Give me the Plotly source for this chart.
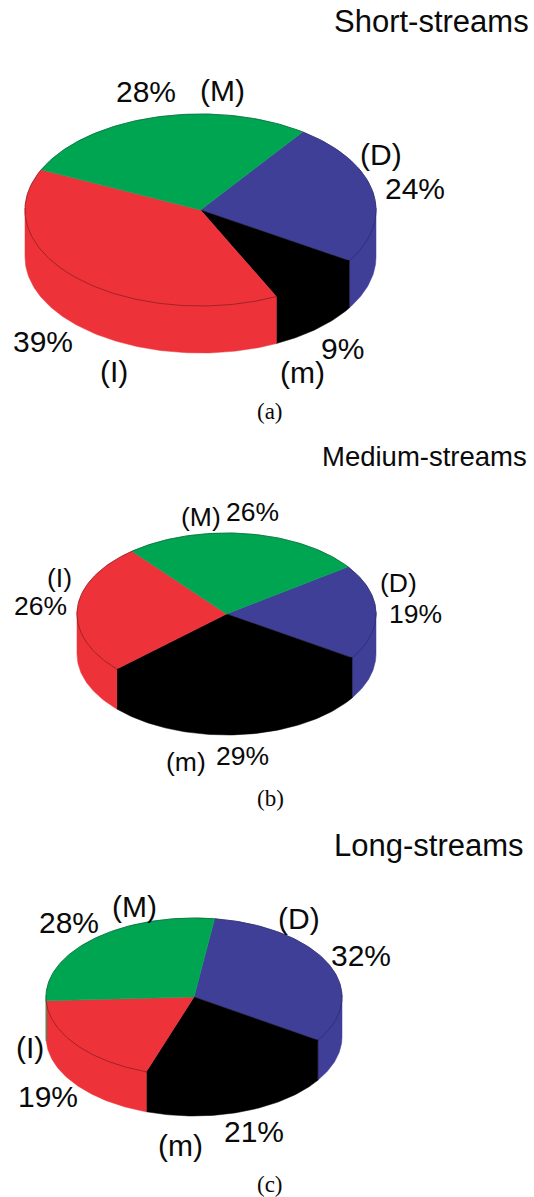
import numpy as np
import plotly.graph_objects as go

# Slice order runs clockwise around each pie
categories = ["D", "m", "I", "M"]
short_values = [24, 9, 39, 28]
medium_values = [19, 29, 26, 26]
long_values = [32, 21, 19, 28]
titles = ["Short-streams", "Medium-streams", "Long-streams"]
captions = ["(a)", "(b)", "(c)"]

COLORS = {"D": "#3F3F97", "m": "#000000", "I": "#EE3239", "M": "#00A551"}
RIMS = {"D": "#2C2C70", "m": "#000000", "I": "#8E2025", "M": "#0B6B3C"}

# Pie geometry: centre, radii, wall height and the angle where the first slice begins
pies = [
    dict(values=short_values, cx=200.5, cy=210, rx=175.5, ry=96, depth=47, start=54.4),
    dict(values=medium_values, cx=226.5, cy=614, rx=149.5, ry=81, depth=40, start=35.6),
    dict(values=long_values, cx=194, cy=997, rx=148, ry=79, depth=40, start=82),
]

# Text positions per panel
title_pos = [(431.5, 21), (424.5, 456), (429, 845)]
caption_pos = [(270, 411), (270, 798), (270, 1184)]
title_size = [31, 27.5, 31]
label_size = [30, 26.5, 30]
label_pos = [
    {"M": ((222, 90), (146, 91)), "D": ((381, 154), (415, 188)),
     "I": ((114, 371), (43, 341)), "m": ((302, 372), (342, 348))},
    {"M": ((200.7, 517), (252, 512)), "D": ((398, 583), (415, 614)),
     "I": ((59, 578), (40, 606)), "m": ((186, 762), (242, 756))},
    {"M": ((134, 906), (69, 922)), "D": ((299, 918), (361, 955)),
     "I": ((30, 1047), (48, 1096)), "m": ((180, 1145), (254, 1131))},
]


def arc(cx, cy, rx, ry, a0, a1, drop=0.0):
    theta = np.radians(np.linspace(a0, a1, max(2, int(abs(a1 - a0)) + 2)))
    return cx + rx * np.cos(theta), cy - ry * np.sin(theta) + drop


fig = go.Figure()

for pie in pies:
    cx, cy, rx, ry, depth = pie["cx"], pie["cy"], pie["rx"], pie["ry"], pie["depth"]
    angle = pie["start"]
    wedges = []
    for cat, value in zip(categories, pie["values"]):
        span = value / sum(pie["values"]) * 360
        wedges.append((cat, angle, angle - span))
        angle -= span

    # Walls: the part of each slice on the front half, tucked slightly under the top face
    for cat, a0, a1 in wedges:
        for lo, hi in [(-180, 0), (-540, -360)]:
            top, bottom = min(a0, hi), max(a1, lo)
            if top <= bottom:
                continue
            x, y = arc(cx, cy, rx, ry, top, bottom, -2)
            xb, yb = arc(cx, cy, rx, ry, bottom, top, depth)
            fig.add_trace(go.Scatter(
                x=np.r_[x, xb, x[0]], y=np.r_[y, yb, y[0]], mode="lines", fill="toself",
                fillcolor=COLORS[cat], line=dict(color=COLORS[cat], width=0.5),
                hoverinfo="skip", showlegend=False))

    # Top face with a thin darker rim
    for cat, a0, a1 in wedges:
        x, y = arc(cx, cy, rx, ry, a0, a1)
        fig.add_trace(go.Scatter(
            x=np.r_[cx, x, cx], y=np.r_[cy, y, cy], mode="lines", fill="toself",
            fillcolor=COLORS[cat], line=dict(color=COLORS[cat], width=0.5),
            hoverinfo="skip", showlegend=False, name=cat))
        fig.add_trace(go.Scatter(
            x=x, y=y, mode="lines", line=dict(color=RIMS[cat], width=0.8),
            hoverinfo="skip", showlegend=False))

annotations = []


def add_text(text, pos, size, family="Liberation Sans"):
    annotations.append(dict(
        x=pos[0], y=pos[1], xref="x", yref="y", text=text, showarrow=False,
        xanchor="center", yanchor="middle", font=dict(family=family, size=size, color="#0A0A0A")))


for i, pie in enumerate(pies):
    add_text(titles[i], title_pos[i], title_size[i])
    add_text(captions[i], caption_pos[i], 23, "Liberation Serif")
    for cat, value in zip(categories, pie["values"]):
        name_xy, pct_xy = label_pos[i][cat]
        add_text(f"({cat})", name_xy, label_size[i])
        add_text(f"{value}%", pct_xy, label_size[i])

fig.update_layout(
    width=534, height=1197, autosize=False,
    margin=dict(l=0, r=0, t=0, b=0),
    paper_bgcolor="white", plot_bgcolor="white", showlegend=False,
    xaxis=dict(range=[0, 534], visible=False, fixedrange=True),
    yaxis=dict(range=[1197, 0], visible=False, fixedrange=True),
    annotations=annotations,
)
fig.write_html("out.html", config={"displayModeBar": False})
